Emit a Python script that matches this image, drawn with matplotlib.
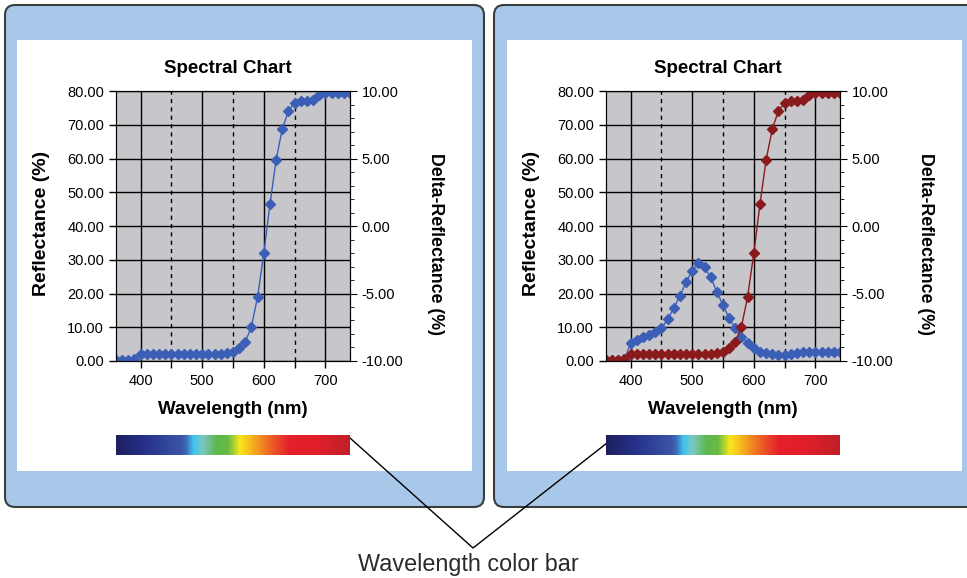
import numpy as np
import matplotlib
matplotlib.use("Agg")
import matplotlib.pyplot as plt
from matplotlib.patches import FancyBboxPatch, Rectangle
from matplotlib.colors import LinearSegmentedColormap

plt.rcParams["font.family"] = ["Liberation Sans", "DejaVu Sans"]

# data
wavelength = np.arange(360, 750, 10)
refl_sample = [0.3, 0.3, 0.3, 0.5, 2.0, 2.0, 2.0, 2.0, 2.0, 2.0, 2.0, 2.0, 2.0,
               2.0, 2.0, 2.0, 2.0, 2.1, 2.3, 2.8, 3.8, 5.7, 10.2, 19.1, 31.9,
               46.4, 59.6, 68.7, 74.1, 76.5, 77.0, 77.0, 77.3, 78.8, 79.5, 79.5,
               79.5, 79.5, 79.5]
refl_blue = [0.3, 0.3, 0.3, 0.5, 5.2, 6.2, 7.0, 7.7, 8.5, 9.7, 12.3, 15.6, 19.3,
             23.3, 26.8, 28.9, 27.8, 24.8, 20.5, 16.6, 12.6, 9.7, 7.0, 5.2, 3.8,
             2.8, 2.3, 2.1, 1.8, 1.8, 2.1, 2.3, 2.6, 2.8, 2.8, 2.8, 2.8, 2.8, 2.8]
y_ticks = np.arange(0, 90, 10)
delta_ticks = np.arange(-10, 15, 5)
x_ticks = [400, 500, 600, 700]
dashed_x = [450, 550, 650]

spectrum = ["#1d1f5e", "#26308a", "#3a56a8", "#3f6cb8", "#3ec4ee", "#7cc8c4",
            "#5cb84c", "#6aba44", "#f8e81c", "#f4a020", "#ec5a28", "#e4202a",
            "#e01f2a", "#c02028"]
spectrum_pos = [0.0, 0.12, 0.28, 0.3, 0.33, 0.37, 0.43, 0.48, 0.53, 0.6, 0.67,
                0.74, 0.85, 1.0]

W, H = 967, 578
fig = plt.figure(figsize=(W / 100, H / 100), dpi=100)

bg = fig.add_axes([0, 0, 1, 1])
bg.set_xlim(0, W)
bg.set_ylim(H, 0)
bg.axis("off")

panel_blue = "#a8c8ea"
for x0, x1, wx0, wx1 in [(5, 484, 17, 472), (494, 980, 507, 962)]:
    bg.add_patch(FancyBboxPatch((x0, 5), x1 - x0, 502,
                                boxstyle="round,pad=0,rounding_size=10",
                                fc=panel_blue, ec="#3c3c3c", lw=1.5))
    bg.add_patch(Rectangle((wx0, 40), wx1 - wx0, 431, fc="white", ec="none"))

bg.plot([350, 473, 607], [438, 548, 443], color="black", lw=1)
bg.text(468, 564, "Wavelength color bar", ha="center", va="center",
        fontsize=16.8, color="#2a2a2a")

cmap = LinearSegmentedColormap.from_list("spec", list(zip(spectrum_pos, spectrum)))


def px_rect(left, top, right, bottom):
    return [left / W, 1 - bottom / H, (right - left) / W, (bottom - top) / H]


def chart(left, curves):
    ax = fig.add_axes(px_rect(left, 91, left + 234, 361))
    ax.set_facecolor("#c7c6cb")
    ax.set_xlim(360, 740)
    ax.set_ylim(0, 80)
    ax.set_xticks(x_ticks)
    ax.set_xticks(dashed_x, minor=True)
    ax.set_yticks(y_ticks)
    ax.set_yticklabels([f"{v:.2f}" for v in y_ticks])
    ax.tick_params(axis="both", which="both", direction="out", length=5,
                   labelsize=10.5, width=1)
    ax.tick_params(axis="x", pad=4.5)
    ax.grid(True, which="major", color="black", lw=1)
    for xv in dashed_x:
        ax.axvline(xv, color="black", lw=1, ls=(0, (3, 3)))
    for values, color in curves:
        ax.plot(wavelength, values, color=color, lw=1, marker="D",
                markersize=5, zorder=3)

    bold = dict(transform=ax.transAxes, ha="center", va="center",
                fontweight="bold")
    ax.text(0.48, 1.085, "Spectral Chart", fontsize=13.5, **bold)
    ax.text(0.5, -0.178, "Wavelength (nm)", fontsize=13.5, **bold)
    ax.text(-0.318, 0.51, "Reflectance (%)", fontsize=14, rotation=90, **bold)
    ax.text(1.365, 0.435, "Delta-Reflectance (%)", fontsize=12.8,
            rotation=-90, **bold)

    ax2 = ax.twinx()
    ax2.set_ylim(-10, 10)
    ax2.set_yticks(delta_ticks)
    ax2.set_yticklabels([f"{v:.2f}" for v in delta_ticks])
    ax2.set_yticks(np.arange(-10, 11, 1), minor=True)
    ax2.tick_params(axis="y", which="major", length=5, labelsize=10.5)
    ax2.tick_params(axis="y", which="minor", length=3)

    cax = fig.add_axes(px_rect(left, 435, left + 234, 455))
    cax.imshow(np.linspace(0, 1, 256)[None, :], aspect="auto", cmap=cmap)
    cax.set_axis_off()


chart(116, [(refl_sample, "#3b5fb6")])
chart(606, [(refl_blue, "#3b5fb6"), (refl_sample, "#8b1a1c")])

fig.savefig("out.png", dpi=100)
